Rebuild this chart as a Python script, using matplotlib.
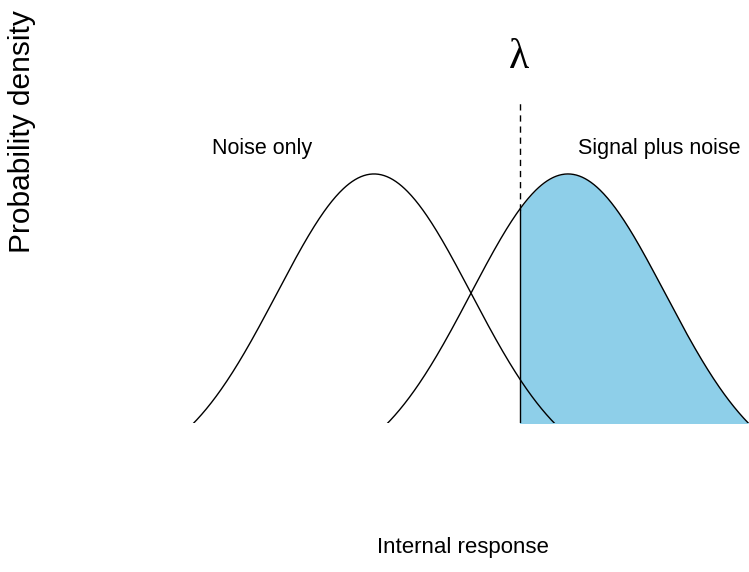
import numpy as np
import matplotlib
matplotlib.use('Agg')
import matplotlib.pyplot as plt

# signal detection theory: noise vs signal+noise distributions
noise_mean = 0.0
signal_mean = 2.0
sd = 1.0
criterion = 1.5
labels = ['Noise only', 'Signal plus noise']
label_x = [-1.15, 2.94]

def dens(x, m):
    return np.exp(-0.5 * ((x - m) / sd) ** 2) / np.sqrt(2 * np.pi)

plt.rcParams['font.family'] = ['Liberation Sans', 'DejaVu Sans']

fig = plt.figure(figsize=(7.49, 5.72), dpi=100)
ax = fig.add_axes([0, 149 / 572, 1, 423 / 572])

x = np.linspace(-4, 4, 800)
ax.plot(x, dens(x, noise_mean), color='black', lw=1.0)
ax.plot(x, dens(x, signal_mean), color='black', lw=1.0)

xs = np.linspace(criterion, 4, 400)
ax.fill_between(xs, 0, dens(xs, signal_mean), color='#8ECFE9', lw=0, zorder=0)
ax.plot([criterion, criterion], [0, dens(criterion, signal_mean)], color='black', lw=1.0)
ax.plot([criterion, criterion], [dens(criterion, signal_mean), 0.496],
        color='black', lw=1.0, ls=(0, (4.5, 3.5)))

ax.text(criterion, 0.552, 'λ', ha='center', va='center', fontsize=30,
        family=['Liberation Serif', 'DejaVu Serif'])
for lx, lab in zip(label_x, labels):
    ax.text(lx, 0.433, lab, ha='center', va='center', fontsize=15.5)

ax.set_xlim(-374 / 97, (749 - 374) / 97)
ax.set_ylim(0.071, 0.628)
ax.axis('off')

fig.text(463 / 749, 1 - 548 / 572, 'Internal response', ha='center', va='center', fontsize=16)
fig.text(22 / 749, 1 - 132 / 572, 'Probability density', ha='center', va='center',
         fontsize=21.5, rotation=90)

fig.savefig('out.png', dpi=100)
